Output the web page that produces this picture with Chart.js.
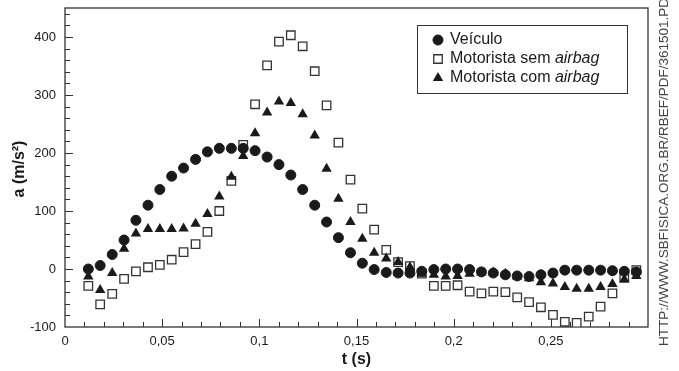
<!DOCTYPE html>
<html>
<head>
<meta charset="utf-8">
<script src="https://cdn.jsdelivr.net/npm/chart.js@4.4.1/dist/chart.umd.min.js"></script>
<style>
  html, body { margin: 0; padding: 0; background: #fff; }
</style>
</head>
<body>
<canvas id="chartCanvas" width="679" height="371"></canvas>
<script>
// tempo (s) de cada amostra
const times = [
  0.0120, 0.0181, 0.0243, 0.0304, 0.0365, 0.0427, 0.0488, 0.0549, 0.0610, 0.0672,
  0.0733, 0.0794, 0.0856, 0.0917, 0.0978, 0.1040, 0.1101, 0.1162, 0.1223, 0.1285,
  0.1346, 0.1407, 0.1469, 0.1530, 0.1591, 0.1653, 0.1714, 0.1775, 0.1836, 0.1898,
  0.1959, 0.2020, 0.2082, 0.2143, 0.2204, 0.2266, 0.2327, 0.2388, 0.2449, 0.2511,
  0.2572, 0.2633, 0.2695, 0.2756, 0.2817, 0.2878, 0.2940,
];

const veiculo = [
  0, 6, 25, 50, 84, 110, 137, 160, 174, 189,
  202, 208, 208, 208, 204, 193, 180, 162, 137, 110,
  81, 54, 28, 10, -1, -6, -7, -7, -4, -1,
  0, 0, -1, -5, -7, -10, -12, -13, -10, -7,
  -2, -2, -2, -2, -3, -4, -5,
];

const semAirbag = [
  -29, -61, -43, -17, -4, 3, 7, 16, 29, 43,
  64, 100, 152, 214, 284, 351, 392, 403, 384, 341,
  282, 218, 154, 104, 68, 33, 12, 5, -8, -29,
  -29, -28, -39, -42, -39, -40, -49, -57, -66, -79,
  -91, -93, -82, -65, -42, -15, -2,
];

const comAirbag = [
  -13, -36, -7, 35, 61, 69, 69, 69, 70, 78,
  95, 125, 159, 195, 234, 270, 289, 286, 267, 230,
  173, 121, 81, 52, 28, 18, 12, 3, -8, -10,
  -13, -12, -8, -6, -6, -8, -13, -16, -23, -25,
  -31, -34, -34, -31, -26, -18, -12,
];

const xTickLabels = ["0", "0,05", "0,1", "0,15", "0,2", "0,25"];
const yTickLabels = ["-100", "0", "100", "200", "300", "400"];

const legendItems = [
  { text: "Veículo", italic: "" },
  { text: "Motorista sem ", italic: "airbag" },
  { text: "Motorista com ", italic: "airbag" },
];

const FONT = "'Liberation Sans', Arial, Helvetica, sans-serif";
const INK = "#1a1a1a";

function toPoints(ys) {
  return ys.map((y, i) => ({ x: times[i], y: y }));
}

const framePlugin = {
  id: "frame",
  beforeDatasetsDraw(chart) {
    const { ctx, chartArea: a, scales } = chart;
    ctx.save();
    ctx.strokeStyle = "#333";
    ctx.lineWidth = 1.3;
    ctx.strokeRect(a.left, a.top, a.right - a.left, a.bottom - a.top);

    ctx.lineWidth = 1;
    ctx.beginPath();
    // x ticks, pointing inward from the bottom
    for (let i = 1; i < 30; i++) {
      const px = Math.round(scales.x.getPixelForValue(i / 100)) + 0.5;
      const len = i % 5 === 0 ? 8 : 5;
      ctx.moveTo(px, a.bottom);
      ctx.lineTo(px, a.bottom - len);
    }
    // y ticks, pointing inward from the left
    for (let v = -80; v <= 440; v += 20) {
      const py = Math.round(scales.y.getPixelForValue(v)) + 0.5;
      const len = v % 100 === 0 ? 8 : 5;
      ctx.moveTo(a.left, py);
      ctx.lineTo(a.left + len, py);
    }
    ctx.stroke();

    // y axis title
    ctx.fillStyle = INK;
    ctx.font = "bold 16px " + FONT;
    ctx.translate(20, a.top + 161);
    ctx.rotate(-Math.PI / 2);
    ctx.textAlign = "center";
    ctx.textBaseline = "middle";
    ctx.fillText("a (m/s²)", 0, 0);
    ctx.restore();
  },
  afterDraw(chart) {
    const { ctx, chartArea: a } = chart;
    ctx.save();

    // legend box
    const left = a.right - 231, top = a.top + 17;
    ctx.strokeStyle = "#333";
    ctx.lineWidth = 1;
    ctx.strokeRect(left + 0.5, top + 0.5, 210, 68);
    ctx.font = "16px " + FONT;
    ctx.textBaseline = "middle";
    chart.data.datasets.forEach((ds, i) => {
      const y = top + 15 + i * 19;
      ctx.fillStyle = ds.backgroundColor;
      ctx.strokeStyle = ds.borderColor;
      ctx.lineWidth = ds.borderWidth;
      Chart.helpers.drawPoint(ctx, {
        pointStyle: ds.pointStyle,
        radius: ds.legendRadius,
        borderWidth: ds.borderWidth,
        rotation: 0,
      }, left + 21, y);
      ctx.fillStyle = INK;
      const item = legendItems[i];
      ctx.font = "16px " + FONT;
      ctx.fillText(item.text, left + 33, y);
      if (item.italic) {
        const w = ctx.measureText(item.text).width;
        ctx.font = "italic 16px " + FONT;
        ctx.fillText(item.italic, left + 33 + w, y);
      }
    });

    // source watermark
    ctx.fillStyle = "#444";
    ctx.font = "13.5px " + FONT;
    ctx.translate(664, 346);
    ctx.rotate(-Math.PI / 2);
    ctx.textAlign = "left";
    ctx.textBaseline = "middle";
    ctx.fillText("HTTP://WWW.SBFISICA.ORG.BR/RBEF/PDF/361501.PDF", 0, 0);
    ctx.restore();
  },
};

const chartContext = document.getElementById("chartCanvas");

let chart = new Chart(chartContext, {
  type: "scatter",
  data: {
    datasets: [
      {
        data: toPoints(veiculo),
        label: "Veículo",
        pointStyle: "circle",
        pointRadius: 5,
        legendRadius: 5,
        backgroundColor: INK,
        borderColor: INK,
        borderWidth: 1,
        order: 1,
      },
      {
        data: toPoints(semAirbag),
        label: "Motorista sem airbag",
        pointStyle: "rect",
        pointRadius: 6,
        legendRadius: 6,
        backgroundColor: "#fff",
        borderColor: "#333",
        borderWidth: 1.3,
        order: 3,
      },
      {
        data: toPoints(comAirbag),
        label: "Motorista com airbag",
        pointStyle: "triangle",
        pointRadius: 6,
        legendRadius: 6,
        backgroundColor: INK,
        borderColor: INK,
        borderWidth: 0,
        order: 2,
      },
    ],
  },
  options: {
    responsive: false,
    animation: false,
    devicePixelRatio: 1,
    events: [],
    layout: { padding: { top: 8, right: 31, left: 0, bottom: 0 } },
    plugins: {
      legend: { display: false },
      tooltip: { enabled: false },
    },
    scales: {
      x: {
        type: "linear",
        min: 0,
        max: 0.3,
        grid: { display: false, drawTicks: false },
        border: { display: false },
        afterFit: (s) => { s.height = 44; },
        ticks: {
          stepSize: 0.05,
          padding: 7,
          color: INK,
          font: { family: FONT, size: 13 },
          maxRotation: 0,
          autoSkip: false,
          callback: (v) => xTickLabels[Math.round(v / 0.05)] ?? "",
        },
        title: {
          display: true,
          text: "t (s)",
          color: INK,
          font: { family: FONT, size: 16, weight: "bold" },
          padding: { top: 0, bottom: 2 },
        },
      },
      y: {
        type: "linear",
        min: -100,
        max: 450,
        grid: { display: false, drawTicks: false },
        border: { display: false },
        afterFit: (s) => { s.width = 65; s.paddingTop = 0; s.paddingBottom = 0; },
        ticks: {
          stepSize: 100,
          padding: 9,
          color: INK,
          font: { family: FONT, size: 13 },
          autoSkip: false,
          callback: (v) => (v % 100 === 0 ? yTickLabels[(v + 100) / 100] ?? "" : ""),
        },
      },
    },
  },
  plugins: [framePlugin],
});
</script>
</body>
</html>
